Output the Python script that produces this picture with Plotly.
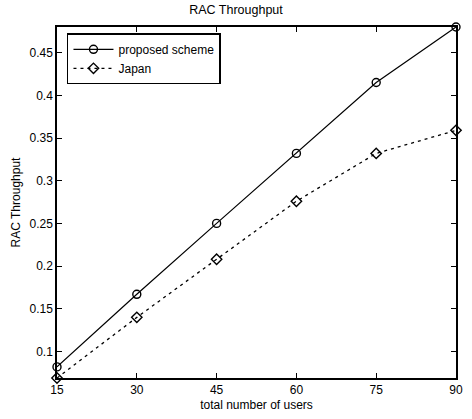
import plotly.graph_objects as go

users = [15, 30, 45, 60, 75, 90]
proposed = [0.082, 0.167, 0.250, 0.332, 0.415, 0.480]
japan = [0.069, 0.140, 0.208, 0.276, 0.332, 0.359]
x_ticks = [15, 30, 45, 60, 75, 90]
y_ticks = [0.1, 0.15, 0.2, 0.25, 0.3, 0.35, 0.4, 0.45]
y_tick_labels = ["0.1", "0.15", "0.2", "0.25", "0.3", "0.35", "0.4", "0.45"]

font = dict(family="Liberation Sans, Arial, sans-serif", size=12, color="black")

fig = go.Figure()
fig.add_trace(go.Scatter(
    x=users, y=proposed, name="proposed scheme", mode="lines+markers",
    line=dict(color="black", width=1.2, dash="solid"),
    marker=dict(symbol="circle-open", size=8, color="black", line=dict(width=1.4)),
    cliponaxis=False,
))
fig.add_trace(go.Scatter(
    x=users, y=japan, name="Japan", mode="lines+markers",
    line=dict(color="black", width=1.3, dash="3px,4px"),
    marker=dict(symbol="diamond-open", size=8, color="black", line=dict(width=1.4)),
    cliponaxis=False,
))

axis_common = dict(
    showgrid=False, zeroline=False, showline=True, linecolor="black", linewidth=1.5,
    mirror="ticks", ticks="inside", ticklen=5, tickcolor="black", tickfont=font,
)
fig.update_xaxes(range=[15, 90], tickvals=x_ticks, ticktext=[str(v) for v in x_ticks],
                 title=dict(text="total number of users", font=font, standoff=4), **axis_common)
fig.update_yaxes(range=[0.069, 0.48], tickvals=y_ticks, ticktext=y_tick_labels,
                 title=dict(text="RAC Throughput", font=font, standoff=6), **axis_common)

fig.update_layout(
    width=472, height=419,
    margin=dict(l=57, r=9, t=27, b=40),
    plot_bgcolor="white", paper_bgcolor="white",
    font=font,
    title=dict(text="RAC Throughput", x=0.5, xanchor="center", y=0.988, yanchor="top",
               font=dict(family="Liberation Sans, Arial, sans-serif", size=12.5, color="black")),
    showlegend=True,
    legend=dict(x=0.025, y=0.982, xanchor="left", yanchor="top",
                bgcolor="white", bordercolor="black", borderwidth=1.5,
                font=font, tracegroupgap=0, itemwidth=40),
)

fig.write_html("out.html")
